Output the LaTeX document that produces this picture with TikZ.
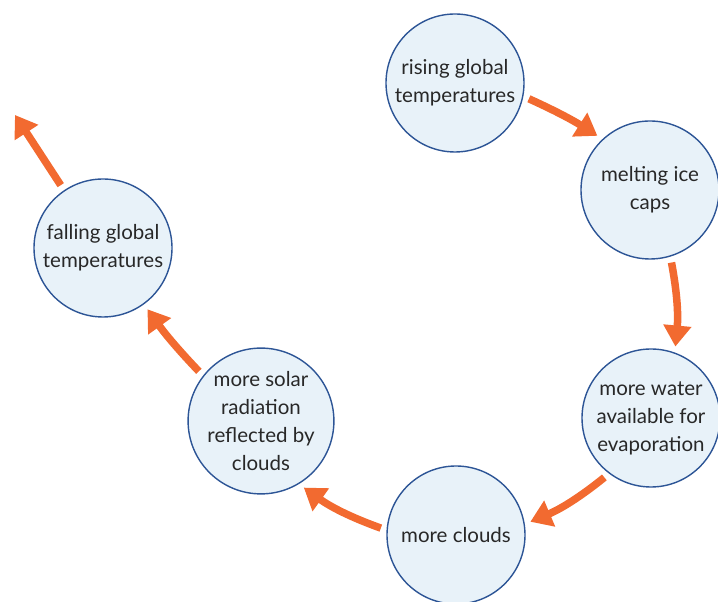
\documentclass[tikz,border=0pt]{standalone}
\usepackage{fontspec}
\setmainfont{Lato}
\usetikzlibrary{arrows.meta}
\definecolor{cfill}{RGB}{232,242,249}
\definecolor{cline}{RGB}{45,85,150}
\definecolor{carrow}{RGB}{242,106,48}
\definecolor{ctext}{RGB}{40,40,40}
\tikzset{
  bub/.style={circle, draw=cline, line width=1.4pt, fill=cfill, minimum size=138pt, inner sep=0pt,
    align=center, text=ctext, font=\fontsize{20.5}{28}\selectfont},
  arr/.style={draw=carrow, line width=7.5pt, -{Triangle[width=27pt,length=21pt]}, carrow,
    shorten <=6pt, shorten >=6pt, bend left=8}
}
\begin{document}
\begin{tikzpicture}[x=1pt,y=1pt]
\useasboundingbox (0,0) rectangle (718,602);
\node[bub] (n1) at (455,519) {rising global\\temperatures};
\node[bub] (n2) at (650,412) {melting ice\\caps};
\node[bub] (n3) at (651,184) {more water\\available for\\evaporation};
\node[bub] (n4) at (456,67) {more clouds};
\node[bub] (n5) at (261,181) {more solar\\radiation\\reflected by\\clouds};
\node[bub] (n6) at (103,354) {falling global\\temperatures};
\coordinate (free) at (15,487);
\draw[arr, bend left=4] (n1.-11) to (n2.133);
\draw[arr] (n2.-73) to (n3.70);
\draw[arr] (n3.233) to (n4.9);
\draw[arr] (n4.176) to (n5.-59);
\draw[arr, bend left=4] (n5.142) to (n6.-54);
\draw[arr, bend left=0, shorten >=0pt] (n6.124) to (free);
\end{tikzpicture}
\end{document}
